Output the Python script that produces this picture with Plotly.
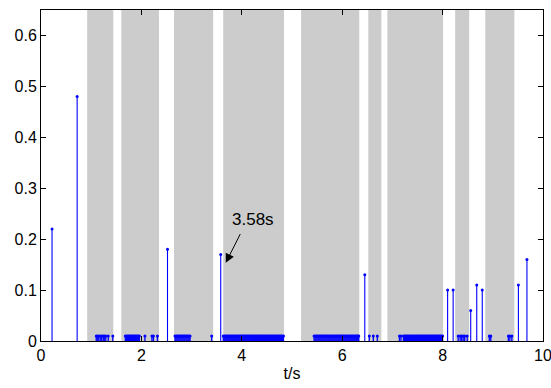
import plotly.graph_objects as go

# Shaded intervals (t/s)
band_start = [0.92, 1.60, 2.65, 3.63, 5.18, 6.52, 6.90, 8.25, 8.85]
band_end = [1.44, 2.35, 3.43, 4.84, 6.34, 6.78, 8.01, 8.53, 9.43]

# Tall peaks
peak_t = [0.22, 0.72, 2.52, 3.58, 6.45, 8.10, 8.21, 8.56, 8.68, 8.79, 9.51, 9.68]
peak_v = [0.22, 0.48, 0.18, 0.17, 0.13, 0.10, 0.10, 0.06, 0.11, 0.10, 0.11, 0.16]

# Small (0.01) stems
small_t = [
    1.10, 1.12, 1.15, 1.18, 1.21, 1.24, 1.26, 1.29, 1.34, 1.43,
    1.68, 1.70, 1.72, 1.74, 1.76, 1.78, 1.80, 1.82, 1.84, 1.86, 1.88, 1.90,
    1.92, 1.94, 1.96,
    2.07, 2.21, 2.24, 2.32,
    2.67, 2.69, 2.71, 2.73, 2.75, 2.77, 2.79, 2.81, 2.83, 2.85, 2.87, 2.89,
    2.91, 2.93, 2.95, 2.97,
    3.40,
    3.63, 3.65, 3.67, 3.69, 3.71, 3.73, 3.75, 3.77, 3.79, 3.81, 3.83, 3.85,
    3.87, 3.89, 3.91, 3.93, 3.95, 3.97, 3.99, 4.01, 4.03, 4.05, 4.07, 4.09,
    4.11, 4.13, 4.15, 4.17, 4.19, 4.21, 4.23, 4.25, 4.27, 4.29, 4.31, 4.33,
    4.35, 4.37, 4.39, 4.41, 4.43, 4.45, 4.47, 4.49, 4.51, 4.53, 4.55, 4.57,
    4.59, 4.61, 4.63, 4.65, 4.67, 4.69, 4.71, 4.73, 4.75, 4.77, 4.79, 4.81,
    4.83,
    5.44, 5.46, 5.48, 5.50, 5.52, 5.54, 5.56, 5.58, 5.60, 5.62, 5.64, 5.66,
    5.68, 5.70, 5.72, 5.74, 5.76, 5.78, 5.80, 5.82, 5.84, 5.86, 5.88, 5.90,
    5.92, 5.94, 5.96, 5.98, 6.00, 6.02, 6.04, 6.06, 6.08, 6.10, 6.12, 6.14,
    6.16, 6.18, 6.20, 6.22, 6.24, 6.26, 6.28, 6.30, 6.32, 6.33,
    6.54, 6.62, 6.70,
    7.14, 7.17, 7.22, 7.24, 7.26, 7.28, 7.30, 7.32, 7.34, 7.36, 7.38, 7.40,
    7.42, 7.44, 7.46, 7.48, 7.50, 7.52, 7.54, 7.56, 7.58, 7.60, 7.62, 7.64,
    7.66, 7.68, 7.70, 7.72, 7.74, 7.76, 7.78, 7.80, 7.82, 7.84, 7.86, 7.88,
    7.90, 7.92, 7.94, 7.96, 7.98, 8.00,
    8.31, 8.35, 8.38, 8.41, 8.44, 8.49,
    8.93, 8.96,
    9.31, 9.34, 9.38,
]
small_v = [0.01] * len(small_t)

x_ticks = [0, 2, 4, 6, 8, 10]
y_ticks = [0, 0.1, 0.2, 0.3, 0.4, 0.5, 0.6]

FONT = "Liberation Sans, Arial, Helvetica, sans-serif"

fig = go.Figure()

for t, v, th in ((small_t, small_v, 1.3), (peak_t, peak_v, 1.1)):
    fig.add_trace(go.Scatter(
        x=t, y=v, mode="markers",
        marker=dict(color="#0000ff", size=3, line=dict(width=0)),
        error_y=dict(type="data", symmetric=False, array=[0] * len(v),
                     arrayminus=v, width=0, thickness=th, color="#0000ff"),
        showlegend=False, hoverinfo="skip",
    ))

for s, e in zip(band_start, band_end):
    fig.add_shape(type="rect", xref="x", yref="paper", x0=s, x1=e, y0=0, y1=1,
                  fillcolor="#cccccc", line=dict(width=0), layer="below")

fig.add_annotation(x=4.23, y=0.239, text="3.58s", showarrow=False,
                   font=dict(family=FONT, size=17, color="black"))
fig.add_annotation(x=3.68, y=0.1535, ax=3.985, ay=0.213, axref="x", ayref="y",
                   text="", showarrow=True, arrowhead=2, arrowsize=1.8,
                   arrowwidth=1, arrowcolor="black")

axis_common = dict(showline=True, linecolor="black", linewidth=1, mirror="ticks",
                   ticks="inside", ticklen=5, tickcolor="black", tickwidth=1,
                   showgrid=False, zeroline=False, ticklabeloverflow="allow",
                   automargin=False,
                   tickfont=dict(family=FONT, size=16, color="black"))

fig.update_xaxes(range=[0, 10], tickvals=x_ticks, ticktext=[str(v) for v in x_ticks],
                 title=dict(text="t/s", font=dict(family=FONT, size=16, color="black"),
                            standoff=4),
                 **axis_common)
fig.update_yaxes(range=[0, 0.65], tickvals=y_ticks,
                 ticktext=["0", "0.1", "0.2", "0.3", "0.4", "0.5", "0.6"],
                 **axis_common)

fig.update_layout(width=551, height=388,
                  margin=dict(l=41, r=8, t=10, b=47, autoexpand=False),
                  plot_bgcolor="white", paper_bgcolor="white",
                  font=dict(family=FONT, size=16, color="black"))

fig.write_html("out.html")
